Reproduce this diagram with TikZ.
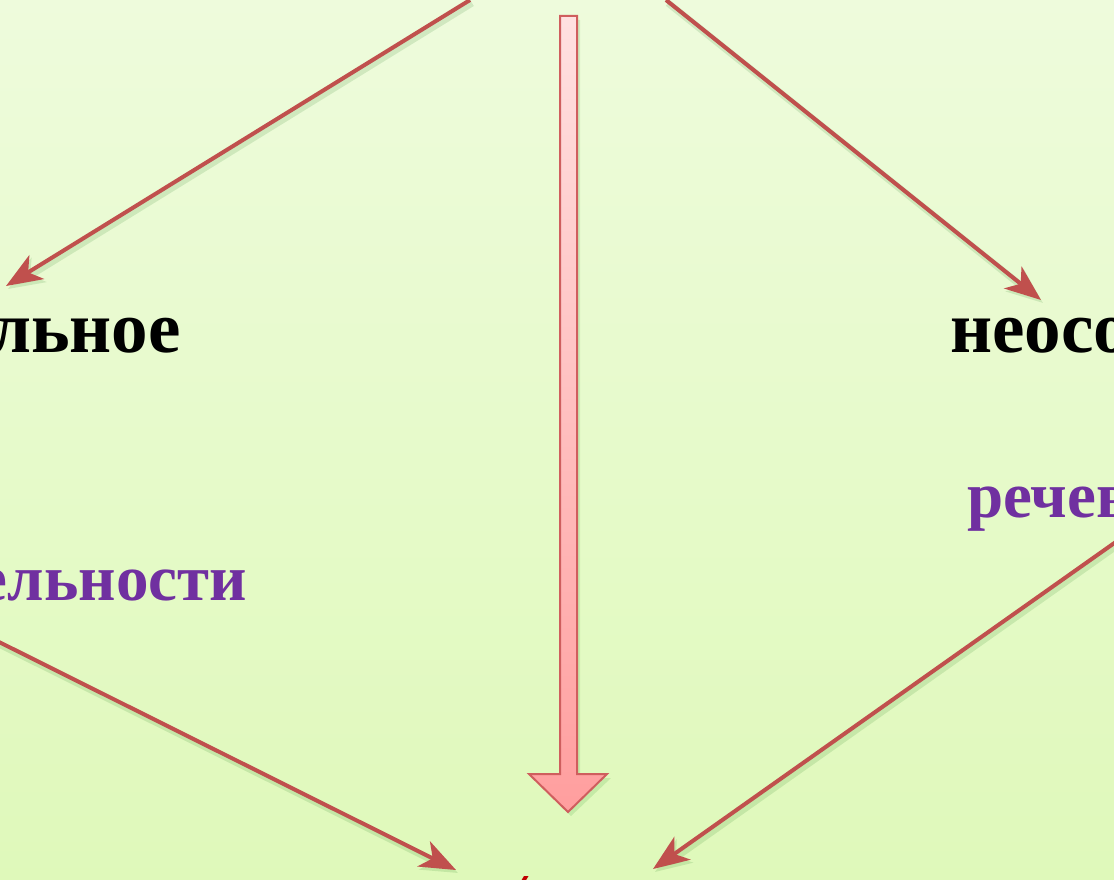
\documentclass[tikz,border=0pt]{standalone}
\usepackage{fontspec}
\setmainfont{Liberation Serif}
\usetikzlibrary{arrows.meta}
\definecolor{arrowred}{HTML}{C0504D}
\definecolor{blockborder}{HTML}{CF5E5E}
\definecolor{purpletext}{HTML}{7030A0}
\definecolor{bgtop}{HTML}{EEFBDC}
\definecolor{bgbottom}{HTML}{DFF9BA}
\definecolor{fragred}{HTML}{C00000}
\tikzset{
  thinarrow/.style={draw=arrowred, line width=4pt,
    -{Stealth[length=36pt,width=28pt,inset=10pt]},
    preaction={draw=black!60!green, opacity=0.12, line width=7pt, transform canvas={shift={(2pt,-3pt)}}}},
  bigword/.style={font=\fontsize{73}{75}\selectfont\bfseries, text=black, inner sep=0pt},
  subword/.style={font=\fontsize{65}{67}\selectfont\bfseries, text=purpletext, inner sep=0pt},
}
\begin{document}
\begin{tikzpicture}[x=1pt,y=-1pt]
\useasboundingbox (0,0) rectangle (1114,880);
\clip (0,0) rectangle (1114,880);
\shade[top color=bgtop, bottom color=bgbottom] (0,0) rectangle (1114,880);

% text fragments
\node[bigword, anchor=base east] (lnoe) at (181,352) {льное};
\node[bigword, anchor=base west] (neoso) at (950,352) {неосознанное};
\node[subword, anchor=base east] (elnosti) at (247,600) {ельности};
\node[subword, anchor=base west] (rechev) at (967,517) {речевой};

% endpoints
\coordinate (a1s) at (470,0);
\coordinate (a1e) at (6,286);
\coordinate (a2s) at (666,0);
\coordinate (a2e) at (1041,300);
\coordinate (a3s) at (-5,640);
\coordinate (a3e) at (456,870);
\coordinate (a4s) at (1120,539);
\coordinate (a4e) at (653,869);

\draw[thinarrow] (a1s) -- (a1e);
\draw[thinarrow] (a2s) -- (a2e);
\draw[thinarrow] (a3s) -- (a3e);
\draw[thinarrow] (a4s) -- (a4e);

% block arrow shadow
\fill[black!50!green, opacity=0.12]
  (563,20) -- (580,20) -- (580,778) -- (611,778) -- (571,816) -- (533,778) -- (563,778) -- cycle;
% block arrow
\path[draw=blockborder, line width=2pt, top color=red!12, bottom color=red!38!white!100]
  (560,16) coordinate (bt) -- (577,16) -- (577,774) -- (607,774) -- (568,812) coordinate (btip) -- (529,774) -- (560,774) -- cycle;

% red fragment at bottom
\fill[fragred] (524,876) -- (528.5,876) -- (525.5,881) -- (521,881) -- cycle;
\end{tikzpicture}
\end{document}
